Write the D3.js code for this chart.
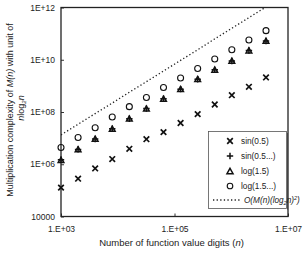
<!DOCTYPE html>
<html><head><meta charset="utf-8">
<script src="https://cdn.jsdelivr.net/npm/d3@7"></script>
<style>
html,body{margin:0;padding:0;background:#fff;}
svg{display:block;font-family:"Liberation Sans","DejaVu Sans",sans-serif;}
</style></head>
<body><svg id="c" width="303" height="253"></svg>
<script>
const digits = [1000,2000,4000,8000,16000,32000,64000,128000,256000,512000,1024000,2048000,4096000];
const sinA = [1.27e5,2.8e5,6.9e5,1.58e6,3.9e6,9.1e6,1.7e7,3.8e7,8.3e7,1.94e8,4.4e8,9.2e8,2.1e9];
const sinB = [1.5e6,3.7e6,9.3e6,2.3e7,5.5e7,1.35e8,3.2e8,7.5e8,1.8e9,4.1e9,9.0e9,2.25e10,5.2e10];
const logA = [1.4e6,3.6e6,9.1e6,2.2e7,5.4e7,1.3e8,3.1e8,7.3e8,1.76e9,4.0e9,8.8e9,2.2e10,5.1e10];
const logB = [4.4e6,1.05e7,2.5e7,6.4e7,1.6e8,3.6e8,8.7e8,2.0e9,4.6e9,1.07e10,2.4e10,5.7e10,1.3e11];
const bound = [1.33e7,3.4e7,8.7e7,2.2e8,5.7e8,1.45e9,3.7e9,9.5e9,2.4e10,6.3e10,1.6e11,4.1e11,1.05e12];
const xTicks = [1e3,1e5,1e7];
const xTickLabels = ["1.E+03","1.E+05","1.E+07"];
const yTicks = [1e4,1e6,1e8,1e10,1e12];
const yTickLabels = ["10000","1E+06","1E+08","1E+10","1E+12"];
const legendLabels = ["sin(0.5)","sin(0.5...)","log(1.5)","log(1.5...)"];

const svg = d3.select("#c");
const L=61, R=288, T=7.5, B=216.5;
const x = d3.scaleLog().domain([1e3,1e7]).range([L,R]);
const y = d3.scaleLog().domain([1e4,1e12]).range([B,T]);

svg.append("defs").append("clipPath").attr("id","clip")
  .append("rect").attr("x",L).attr("y",T).attr("width",R-L).attr("height",B-T);

const xAxis = svg.append("g").attr("transform",`translate(0,${B})`)
  .call(d3.axisBottom(x).tickValues(xTicks).tickSize(-3).tickPadding(9).tickFormat((d,i)=>xTickLabels[i]));
const yAxis = svg.append("g").attr("transform",`translate(${L},0)`)
  .call(d3.axisLeft(y).tickValues(yTicks).tickSize(-3).tickPadding(6).tickFormat((d,i)=>yTickLabels[i]));
[xAxis,yAxis].forEach(g=>{
  g.select(".domain").remove();
  g.selectAll("text").attr("font-size",8.5).attr("fill","#222").attr("font-family","Liberation Sans, sans-serif");
  g.selectAll("line").attr("stroke","#333");
});

svg.append("rect").attr("x",L).attr("y",T).attr("width",R-L).attr("height",B-T)
  .attr("fill","none").attr("stroke","#222").attr("stroke-width",1.3);

const plot = svg.append("g").attr("clip-path","url(#clip)");
const line = d3.line().x((d,i)=>x(digits[i])).y(d=>y(d));
plot.append("path").datum(bound).attr("d",line).attr("fill","none")
  .attr("stroke","#222").attr("stroke-width",1.3).attr("stroke-dasharray","1.3,2.3");

const gm = svg.append("g");
function cross(g,cx,cy,s){
  g.append("path").attr("d",`M${cx-s},${cy-s}L${cx+s},${cy+s}M${cx-s},${cy+s}L${cx+s},${cy-s}`)
   .attr("stroke","#111").attr("stroke-width",1.7).attr("fill","none");
}
function plus(g,cx,cy,s){
  g.append("path").attr("d",`M${cx-s},${cy}L${cx+s},${cy}M${cx},${cy-s}L${cx},${cy+s}`)
   .attr("stroke","#111").attr("stroke-width",1.5).attr("fill","none");
}
function tri(g,cx,cy,s){
  g.append("path").attr("d",`M${cx},${cy-s}L${cx+s*0.95},${cy+s*0.7}L${cx-s*0.95},${cy+s*0.7}Z`)
   .attr("stroke","#111").attr("stroke-width",1.5).attr("fill","none");
}
function circ(g,cx,cy,r){
  g.append("circle").attr("cx",cx).attr("cy",cy).attr("r",r)
   .attr("stroke","#111").attr("stroke-width",1.1).attr("fill","none");
}
digits.forEach((n,i)=>{
  cross(gm,x(n),y(sinA[i]),2.8);
  tri(gm,x(n),y(logA[i]),3.0);
  plus(gm,x(n),y(sinB[i]),3.2);
  circ(gm,x(n),y(logB[i]),3.0);
});

// legend
const lg = svg.append("g");
lg.append("rect").attr("x",208.5).attr("y",131.5).attr("width",78).attr("height",77)
  .attr("fill","#fff").attr("stroke","#555").attr("stroke-width",0.8);
lg.append("line").attr("x1",287.5).attr("x2",287.5).attr("y1",133).attr("y2",209.5)
  .attr("stroke","#444").attr("stroke-width",1);
const rows=[141,156,171,186];
const sx=230, tx=241;
cross(lg,sx,rows[0],2.8);
plus(lg,sx,rows[1],3.2);
tri(lg,sx,rows[2]+0.5,3.2);
circ(lg,sx,rows[3],2.8);
legendLabels.forEach((t,i)=>{
  lg.append("text").attr("x",tx).attr("y",rows[i]+3).attr("font-size",8.3).attr("fill","#222").text(t);
});
lg.append("line").attr("x1",213).attr("x2",240).attr("y1",200).attr("y2",200)
  .attr("stroke","#222").attr("stroke-width",1.3).attr("stroke-dasharray","1.3,2.3");
const bt = lg.append("text").attr("x",244).attr("y",203).attr("font-size",8.2).attr("font-style","italic").attr("fill","#222");
bt.append("tspan").text("O(M(n)(log");
bt.append("tspan").attr("font-size",5.5).attr("dy",2).text("2");
bt.append("tspan").attr("dy",-2).text("n)");
bt.append("tspan").attr("font-size",5.5).attr("dy",-3.5).text("2");
bt.append("tspan").attr("dy",3.5).text(")");

// titles
const xt = svg.append("text").attr("x",(L+R)/2-3).attr("y",246).attr("text-anchor","middle")
  .attr("font-size",9.5).attr("fill","#222");
xt.append("tspan").text("Number of function value digits (");
xt.append("tspan").attr("font-style","italic").text("n");
xt.append("tspan").text(")");

const yt = svg.append("text").attr("transform","translate(13,110) rotate(-90)").attr("text-anchor","middle")
  .attr("font-size",9).attr("fill","#222");
yt.append("tspan").text("Multiplication complexity of ");
yt.append("tspan").attr("font-style","italic").text("M(n)");
yt.append("tspan").text(" with unit of");
const yt2 = svg.append("text").attr("transform","translate(24,108) rotate(-90)").attr("text-anchor","middle")
  .attr("font-size",9).attr("fill","#222").attr("font-style","italic");
yt2.append("tspan").text("n");
yt2.append("tspan").attr("font-style","normal").text("log");
yt2.append("tspan").attr("font-size",6).attr("dy",2).text("2");
yt2.append("tspan").attr("dy",-2).text("n");
</script></body></html>
